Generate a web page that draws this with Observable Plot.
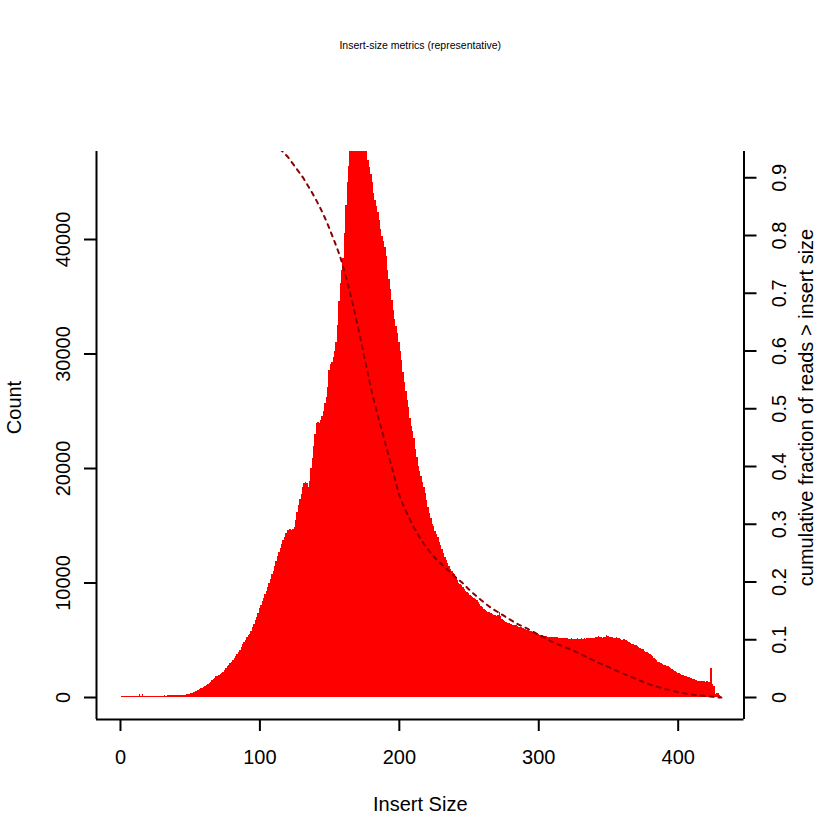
<!DOCTYPE html>
<html>
<head>
<meta charset="utf-8">
<script src="https://cdn.jsdelivr.net/npm/d3@7"></script>
<script src="https://cdn.jsdelivr.net/npm/@observablehq/plot@0.6"></script>
<style>
  html, body { margin: 0; padding: 0; background: #ffffff; }
  #chart { width: 840px; height: 840px; }
</style>
</head>
<body>
<div id="chart"></div>
<script>
// ---- data ----
// histogram counts for insert sizes 1..431
const counts = [
  90, 80, 90, 85, 90, 95, 90, 100, 95, 100,
  95, 100, 110, 260, 110, 240, 105, 110, 105, 110,
  115, 110, 115, 120, 115, 120, 125, 120, 125, 130,
  130, 135, 130, 140, 140, 145, 150, 150, 170, 175,
  175, 180, 180, 185, 190, 200, 210, 240, 260, 300,
  320, 380, 420, 500, 560, 620, 720, 760, 820, 880,
  950, 1040, 1100, 1220, 1320, 1460, 1560, 1700, 1800, 1870,
  1910, 1990, 2100, 2200, 2380, 2540, 2680, 2820, 2960, 3100,
  3220, 3400, 3600, 3780, 3950, 4120, 4400, 4640, 4820, 5000,
  5200, 5380, 5540, 5800, 6080, 6350, 6700, 7000, 7350, 7750,
  8050, 8350, 8650, 9000, 9300, 9650, 10000, 10300, 10700, 11000,
  11400, 11850, 12300, 12700, 13000, 13350, 13700, 13950, 14300, 14550,
  14600, 14650, 14600, 14700, 14850, 15500, 16200, 16800, 17300, 17700,
  18300, 18700, 18800, 18650, 18300, 18900, 20000, 20900, 21900, 23000,
  23900, 24000, 23950, 24200, 24500, 25000, 25700, 26200, 27100, 28600,
  29100, 29300, 29700, 30200, 31000, 32500, 34600, 36200, 37300, 38300,
  40500, 43000, 45000, 46400, 47700, 48300, 48900, 49400, 49900, 50400,
  50100, 49700, 49300, 49000, 48600, 48100, 47700, 46900, 46300, 45700,
  45000, 44000, 43400, 42900, 42400, 41700, 40900, 40300, 39800, 39300,
  38500, 37300, 36500, 35600, 34700, 33800, 33000, 32400, 31800, 31000,
  30200, 29400, 28400, 27500, 26700, 25900, 25300, 24400, 23700, 23200,
  22600, 21700, 21000, 20200, 19700, 19300, 18800, 18300, 17800, 17200,
  16600, 16100, 15600, 15150, 14950, 14500, 14250, 14000, 13550, 13250,
  12900, 12550, 12250, 11950, 11700, 11400, 11200, 11000, 10850, 10700,
  10450, 10250, 10000, 9900, 9750, 9600, 9450, 9300, 9200, 9050,
  8950, 8850, 8750, 8650, 8580, 8450, 8300, 8150, 7950, 7850,
  7700, 7600, 7500, 7450, 7400, 7300, 7250, 7200, 7150, 7100,
  7150, 7400, 7050, 6850, 6750, 6650, 6550, 6500, 6450, 6400,
  6350, 6300, 6280, 6250, 6200, 6150, 6100, 6080, 6050, 5980,
  5920, 5880, 5850, 5800, 5750, 5700, 5650, 5600, 5550, 5500,
  5450, 5420, 5380, 5350, 5320, 5300, 5280, 5260, 5250, 5250,
  5230, 5220, 5200, 5200, 5190, 5180, 5190, 5150, 5130, 5120,
  5110, 5100, 5100, 5120, 5100, 5080, 5100, 5110, 5100, 5100,
  5120, 5100, 5110, 5100, 5130, 5150, 5140, 5160, 5180, 5190,
  5200, 5230, 5300, 5260, 5200, 5190, 5200, 5250, 5380, 5300,
  5250, 5220, 5200, 5130, 5150, 5200, 5190, 5180, 5100, 5020,
  5050, 5080, 4960, 4880, 4800, 4720, 4650, 4600, 4560, 4520,
  4460, 4400, 4300, 4220, 4150, 4050, 3950, 3900, 3820, 3760,
  3650, 3560, 3440, 3320, 3200, 3100, 3040, 2960, 2880, 2830,
  2790, 2740, 2700, 2650, 2560, 2450, 2380, 2280, 2200, 2130,
  2060, 2000, 1950, 1900, 1860, 1830, 1780, 1720, 1680, 1620,
  1580, 1530, 1480, 1440, 1400, 1390, 1400, 1380, 1360, 1330,
  1390, 1340, 1320, 2520, 1150, 1000, 220, 320, 330, 170,
  60
];
const insertSizes = counts.map((_, i) => i + 1);

// cumulative fraction of reads > insert size (dashed curve)
const cumInsert = [100, 105, 110, 116, 120, 124, 128, 131, 134, 137,
  140, 143, 146, 149, 152, 155, 158, 161, 164, 167,
  170, 173, 176, 179, 182, 185, 188, 191, 194, 197,
  200, 204, 208, 212, 216, 220, 224, 228, 232, 236,
  240, 245, 250, 255, 260, 266, 272, 278, 285, 292,
  298, 304, 310, 317, 324, 331, 337, 343, 350, 356,
  363, 370, 376, 383, 390, 397, 404, 411, 418, 425,
  428, 431];
const cumFraction = [0.982, 0.971, 0.959, 0.946, 0.936, 0.923, 0.910, 0.900, 0.888, 0.876,
  0.863, 0.849, 0.834, 0.817, 0.799, 0.780, 0.760, 0.734, 0.707, 0.677,
  0.645, 0.611, 0.577, 0.543, 0.512, 0.484, 0.458, 0.431, 0.404, 0.377,
  0.350, 0.327, 0.306, 0.288, 0.272, 0.258, 0.246, 0.236, 0.227, 0.218,
  0.209, 0.199, 0.187, 0.176, 0.166, 0.155, 0.146, 0.137, 0.127, 0.119,
  0.111, 0.104, 0.096, 0.089, 0.082, 0.074, 0.067, 0.060, 0.053, 0.046,
  0.039, 0.032, 0.026, 0.020, 0.015, 0.011, 0.0075, 0.0047, 0.0030, 0.0012,
  0.0003, 0];

// axes
const xTicks = [0, 100, 200, 300, 400];
const countTicks = [0, 10000, 20000, 30000, 40000];
const fracTicks = [0, 0.1, 0.2, 0.3, 0.4, 0.5, 0.6, 0.7, 0.8, 0.9];
const fracTickLabels = ["0", "0.1", "0.2", "0.3", "0.4", "0.5", "0.6", "0.7", "0.8", "0.9"];

const titleText = "Insert-size metrics (representative)";
const xLabel = "Insert Size";
const yLabel = "Count";
const y2Label = "cumulative fraction of reads > insert size";

// ---- build ----
const hist = insertSizes.map((x, i) => ({insert: x, count: counts[i]}));
const cum = cumInsert.map((x, i) => ({insert: x, frac: cumFraction[i]}));

const K = 50437;               // counts per unit of the secondary (fraction) axis
const xDomain = [-17.2, 447.2];
const yDomain = [-1921, 47686];
const font = "'Liberation Sans', Arial, Helvetica, sans-serif";

const chart = Plot.plot({
  width: 840,
  height: 840,
  marginLeft: 96,
  marginRight: 96.5,
  marginTop: 151,
  marginBottom: 121,
  x: {domain: xDomain},
  y: {domain: yDomain},
  style: {fontFamily: font, background: "#ffffff", color: "#000000"},
  marks: [
    // histogram (one column per insert size) drawn as a stepped silhouette
    Plot.areaY(hist, {x: "insert", y: "count", curve: "step", fill: "#ff0000",
      shapeRendering: "crispEdges", clip: true}),
    // cumulative fraction curve
    Plot.line(cum, {x: "insert", y: d => d.frac * K, stroke: "#8b0000", strokeWidth: 2,
      strokeDasharray: "4,5", curve: "monotone-x", clip: true}),
    // box (left, right, bottom)
    Plot.ruleX(xDomain, {stroke: "#000", strokeWidth: 2}),
    Plot.ruleY([yDomain[0]], {stroke: "#000", strokeWidth: 2}),
    // bottom axis
    Plot.axisX({ticks: xTicks, anchor: "bottom", tickSize: 12, tickPadding: 18.3,
      fontSize: 20, strokeWidth: 2, label: null, tickFormat: d => String(d)}),
    // left axis ticks + rotated labels
    Plot.axisY({ticks: countTicks, anchor: "left", tickSize: 12, strokeWidth: 2,
      label: null, tickFormat: () => ""}),
    Plot.text(countTicks, {y: d => d, text: d => String(d), frameAnchor: "left", dx: -33,
      rotate: -90, fontSize: 20, textAnchor: "middle", lineAnchor: "middle"}),
    // right axis ticks + rotated labels
    Plot.axisY({ticks: fracTicks.map(f => f * K), anchor: "right", tickSize: 12, strokeWidth: 2,
      label: null, tickFormat: () => ""}),
    Plot.text(fracTicks, {y: d => d * K, text: fracTickLabels, frameAnchor: "right", dx: 36,
      rotate: -90, fontSize: 20, textAnchor: "middle", lineAnchor: "middle"}),
    // titles
    Plot.text([titleText], {text: d => d, frameAnchor: "top", dy: -106.3, fontSize: 10.5,
      textAnchor: "middle", lineAnchor: "middle"}),
    Plot.text([xLabel], {text: d => d, frameAnchor: "bottom", dy: 85.3, fontSize: 20,
      textAnchor: "middle", lineAnchor: "middle"}),
    Plot.text([yLabel], {text: d => d, frameAnchor: "left", dx: -81.5, dy: -28, rotate: -90,
      fontSize: 20, textAnchor: "middle", lineAnchor: "middle"}),
    Plot.text([y2Label], {text: d => d, frameAnchor: "right", dx: 62.9, dy: -28, rotate: -90,
      fontSize: 20, textAnchor: "middle", lineAnchor: "middle"})
  ]
});

document.getElementById("chart").appendChild(chart);
</script>
</body>
</html>
